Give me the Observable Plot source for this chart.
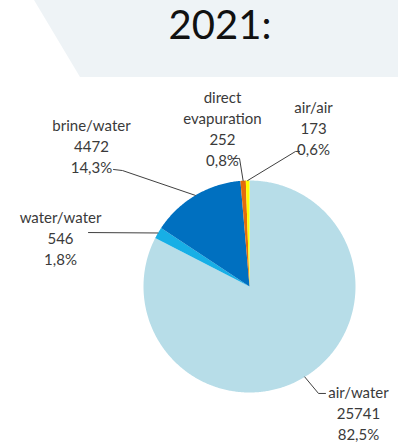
<!DOCTYPE html>
<html><head><meta charset="utf-8">
<script src="https://cdn.jsdelivr.net/npm/d3@7"></script>
<script src="https://cdn.jsdelivr.net/npm/@observablehq/plot@0.6"></script>
<style>
body{margin:0;background:#fff;}
#wrap{position:relative;width:399px;height:444px;overflow:hidden;font-family:Lato,"Open Sans",sans-serif;}
#band{position:absolute;left:0;top:0;width:399px;height:78px;background:#eef3f6;clip-path:polygon(34px 0,398px 0,398px 77px,80px 77px);}
#title{position:absolute;left:220px;top:4px;transform:translateX(-50%);font-size:40px;line-height:40px;color:#111;white-space:nowrap;}
#chart{position:absolute;left:0;top:0;}
</style></head>
<body>
<div id="wrap"><div id="band"></div><div id="title">2021:</div><div id="chart"></div></div>
<script>
// data (clockwise from 12 o'clock)
const categories = ["air/water", "water/water", "brine/water", "direct\nevapuration", "air/air"];
const values = [25741, 546, 4472, 252, 173];
const colors = ["#b7dde8", "#17afe6", "#0070c0", "#e46c0a", "#ffff00"];

// layout (unit = pie radius, centre = 0,0)
const labelPos = [[1.028, -1.189], [-1.783, 0.462], [-1.491, 1.330], [-0.255, 1.500], [0.604, 1.500]];
const leaderStart = [
  [[0.717, -1.009], [0.651, -1.009]],
  [[-1.519, 0.509]],
  [[-1.283, 1.104], [-1.198, 1.094]],
  [[-0.160, 1.208], [-0.094, 1.208]],
  [[0.472, 1.274], [0.434, 1.274]]
];

const total = d3.sum(values);
const arcs = d3.pie().sort(null).value(d => d)(values);
const fmtPct = v => (v / total * 100).toFixed(1).replace(".", ",") + "%";

const slices = arcs.map((a, i) => {
  const pts = [[0, 0]];
  const n = Math.max(2, Math.ceil((a.endAngle - a.startAngle) / 0.01));
  for (let k = 0; k <= n; k++) {
    const t = a.startAngle + (a.endAngle - a.startAngle) * k / n;
    pts.push([Math.sin(t), Math.cos(t)]);
  }
  pts.push([0, 0]);
  return pts.map(p => ({x: p[0], y: p[1], i}));
});

const labels = categories.map((c, i) => ({
  x: labelPos[i][0], y: labelPos[i][1],
  text: `${c}\n${values[i]}\n${fmtPct(values[i])}`
}));

const leaders = arcs.map((a, i) => {
  const mid = (a.startAngle + a.endAngle) / 2;
  const pts = [...leaderStart[i], [Math.sin(mid), Math.cos(mid)]];
  return pts.map(p => ({x: p[0], y: p[1], i}));
});

const R = 106, cx = 249, cy = 286, W = 399, H = 444;
const plot = Plot.plot({
  width: W, height: H, margin: 0,
  x: {domain: [-cx / R, (W - cx) / R], range: [0, W], axis: null},
  y: {domain: [(cy - H) / R, cy / R], range: [H, 0], axis: null},
  style: {background: "transparent", overflow: "visible"},
  marks: [
    ...slices.map((s, i) => Plot.line(s, {x: "x", y: "y", fill: colors[i], stroke: "none", curve: "linear"})),
    ...leaders.map(l => Plot.line(l, {x: "x", y: "y", stroke: "#404040", strokeWidth: 1, curve: "linear"})),
    Plot.text(labels, {x: "x", y: "y", text: "text", fontSize: 15, lineHeight: 1.4, fill: "#3a3a3a",
      textAnchor: "middle", fontFamily: "Lato, 'Open Sans', sans-serif"})
  ]
});
document.getElementById("chart").appendChild(plot);
</script>
</body></html>
